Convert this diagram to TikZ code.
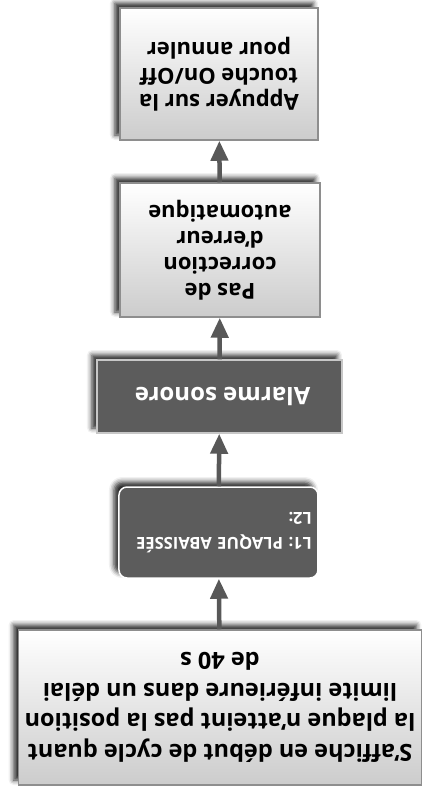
\documentclass[tikz,border=0pt]{standalone}
\usepackage{fontspec}
\setmainfont{Open Sans}
\usetikzlibrary{arrows.meta,shadows.blur}
\definecolor{cardgray}{HTML}{5C5C5C}
\definecolor{edgegray}{HTML}{8E8E8E}
\definecolor{arrowgray}{HTML}{585858}
\tikzset{
  cardbase/.style={
    line width=1.5pt,
    align=center,
    inner sep=6pt,
    font=\bfseries\frenchspacing\fontsize{22}{26}\selectfont,
    blur shadow={shadow xshift=-5pt, shadow yshift=5pt,
      shadow blur radius=5pt, shadow opacity=85}
  },
  lightcard/.style={
    cardbase,
    draw=edgegray,
    top color=white,
    bottom color=black!20
  },
  darkcard/.style={
    cardbase,
    draw=black!22,
    fill=cardgray,
    text=white
  },
  flowarrow/.style={
    -{Triangle[length=20pt,width=17pt]},
    line width=4.5pt,
    draw=arrowgray
  }
}

\begin{document}
\begin{tikzpicture}[x=1pt, y=1pt, rotate=180, transform shape]
    \useasboundingbox (0,0) rectangle (425,793);

    \node[lightcard, minimum width=396pt, minimum height=155pt,
          font=\bfseries\fontsize{23.5}{30.5}\selectfont] (plate) at (205,707.5) {
        S’affiche en début de cycle quant\\
        la plaque n’atteint pas la position\\
        limite inférieure dans un délai\\
        de 40 s
    };
    \node[darkcard, draw=white, rounded corners=8pt, align=left, text width=187pt,
          minimum height=91pt, font=\bfseries\frenchspacing\fontsize{16.5}{25}\selectfont] (screen) at (206.5,532.5) {
        L1: PLAQUE ABAISSÉE\\
        L2:
    };
    \node[darkcard, minimum width=245pt, minimum height=73pt,
          font=\bfseries\fontsize{24}{28}\selectfont] (buzzer) at (205.5,396.5) {
        Alarme sonore
    };
    \node[lightcard, minimum width=200pt, minimum height=134pt] (nofix) at (205,250) {
        Pas de\\
        correction\\
        d’erreur\\
        automatique
    };
    \node[lightcard, minimum width=198pt, minimum height=132pt] (cancel) at (206,74) {
        Appuyer sur la\\
        touche On/Off\\
        pour annuler
    };

    \draw[flowarrow] (plate) -- (screen);
    \draw[flowarrow] (screen) -- (buzzer);
    \draw[flowarrow] (buzzer) -- (nofix);
    \draw[flowarrow] (nofix) -- (cancel);
\end{tikzpicture}
\end{document}
